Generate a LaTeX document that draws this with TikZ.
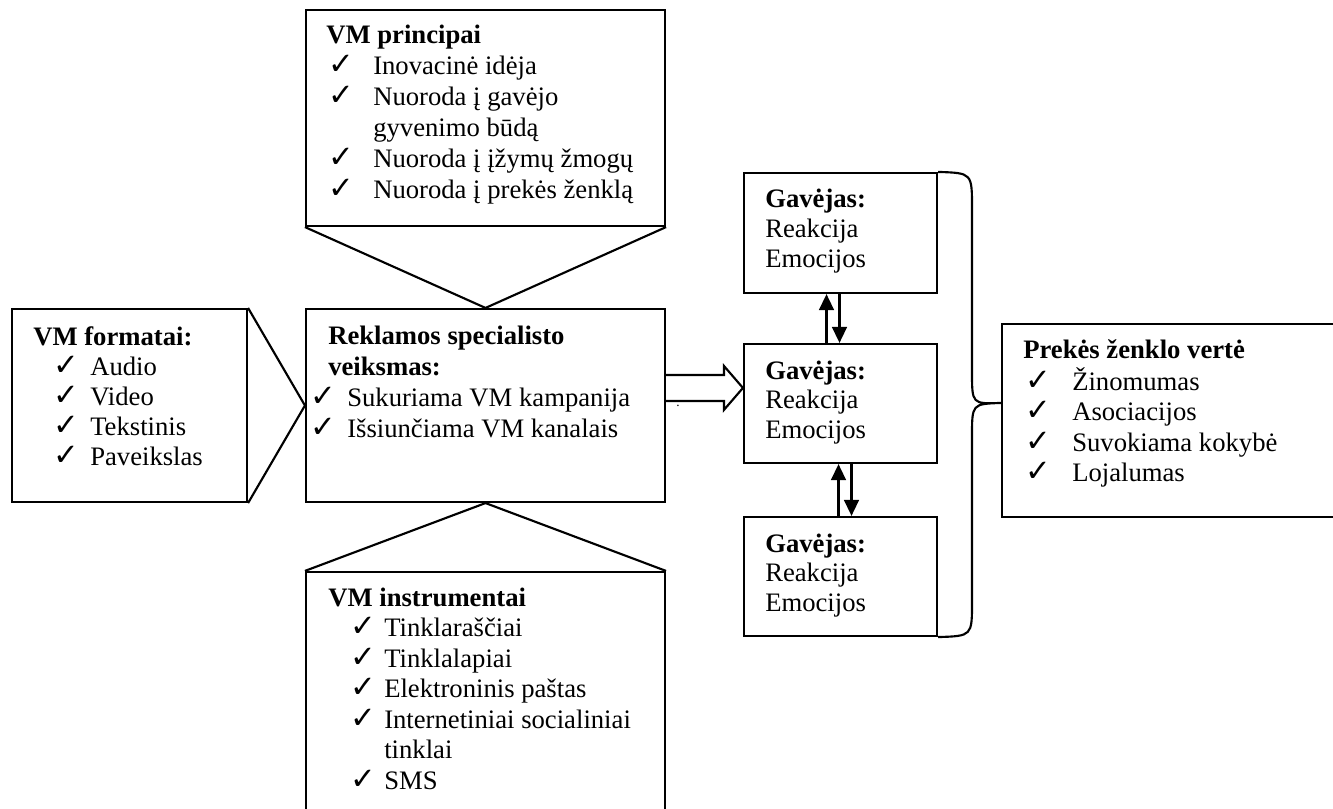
\documentclass[tikz,border=0pt]{standalone}
\usepackage{fontspec}
\setmainfont{Liberation Serif}
\newfontfamily\symfont{DejaVu Sans}
\usetikzlibrary{arrows.meta,calc,fit}
% one drawing unit
\newdimen\px \px=0.75pt
% check mark set in a box of the given width (in drawing units)
\newcommand\ck[1]{\makebox[#1\px][l]{\symfont\fontsize{23pt}{23pt}\selectfont ✓}}

\begin{document}
\begin{tikzpicture}[x=0.75pt, y=-0.75pt,
  box/.style={draw, line width=1.6pt, inner sep=0pt},
  txt/.style={anchor=base west, inner sep=0pt, font=\fontsize{20pt}{23.25pt}\selectfont},
  lnk/.style={line width=1.6pt},
  varr/.style={line width=1.8pt, -{Triangle[width=11pt,length=12pt]}}]
\useasboundingbox (0,0) rectangle (1333,809);
\clip (0,0) rectangle (1333,809);

% boxes
\node[box, fit={(12,309) (247,502)}] (fmt) {};
\node[box, fit={(306,10) (665,226)}] (prin) {};
\node[box, fit={(306,309) (665,502)}] (main) {};
\node[box, fit={(306,572) (665,840)}] (instr) {};
\node[box, fit={(744,173) (937,293)}] (g1) {};
\node[box, fit={(744,344) (937,463)}] (g2) {};
\node[box, fit={(744,517) (937,636)}] (g3) {};
\node[box, fit={(1002,324) (1360,517)}] (val) {};

% callout wedges pointing at the central box
\draw[lnk] (fmt.north east) -- (main.west) -- (fmt.south east);
\draw[lnk] (prin.south west) -- (main.north) -- (prin.south east);
\draw[lnk] (instr.north west) -- (main.south) -- (instr.north east);

% hollow block arrow to the middle receiver
\coordinate (hs) at ($(main.north east)+(0,80)$);
\coordinate (ht) at ($(g2.north west)+(0,45)$);
\draw[lnk, line join=miter] ($(hs)+(0,-13)$) -- ($(ht)+(-19,-13)$) -- ($(ht)+(-19,-22)$)
  -- (ht) -- ($(ht)+(-19,22)$) -- ($(ht)+(-19,13)$) -- ($(hs)+(0,13)$);
\node[inner sep=0pt, font=\fontsize{10pt}{10pt}\selectfont] (dot) at (678,406) {.};

% two-way arrows between receivers
\draw[varr] ($(g2.north)+(-14,0)$) -- ($(g1.south)+(-14,0)$);
\draw[varr] ($(g1.south)+(-1,0)$) -- ($(g2.north)+(-1,0)$);
\draw[varr] ($(g3.north)+(-2,0)$) -- ($(g2.south)+(-2,0)$);
\draw[varr] ($(g2.south)+(11,0)$) -- ($(g3.north)+(11,0)$);

% brace gathering the receivers
\coordinate (tip) at ($(val.north west)+(0,80)$);
\draw[lnk] (g1.north east) .. controls (972,173) .. (972,208) -- (972,372)
  .. controls (972,404) .. (tip) .. controls (972,404) .. (972,436) -- (972,602)
  .. controls (972,636) .. (g3.south east);

% texts
\node[txt] (fmt-t) at (33,345) {\def\arraystretch{0.968}%
  \begin{tabular}[t]{@{}l@{}l@{}}
  \multicolumn{2}{@{}l@{}}{\bfseries VM formatai:}\\
  \hspace{20\px}\ck{37} & Audio\\
  \hspace{20\px}\ck{37} & Video\\
  \hspace{20\px}\ck{37} & Tekstinis\\
  \hspace{20\px}\ck{37} & Paveikslas
  \end{tabular}};

\node[txt] (prin-t) at (326,44) {%
  \begin{tabular}[t]{@{}l@{}l@{}}
  \multicolumn{2}{@{}l@{}}{\bfseries VM principai}\\
  \hspace{2\px}\ck{45} & Inovacinė idėja\\
  \hspace{2\px}\ck{45} & Nuoroda į gavėjo\\
   & gyvenimo būdą\\
  \hspace{2\px}\ck{45} & Nuoroda į įžymų žmogų\\
  \hspace{2\px}\ck{45} & Nuoroda į prekės ženklą
  \end{tabular}};

\node[txt] (main-t) at (310,344) {%
  \begin{tabular}[t]{@{}l@{}l@{}}
  \multicolumn{2}{@{\hspace{18\px}}l@{}}{\bfseries Reklamos specialisto}\\
  \multicolumn{2}{@{\hspace{18\px}}l@{}}{\bfseries veiksmas:}\\
  \ck{37} & Sukuriama VM kampanija\\
  \ck{37} & Išsiunčiama VM kanalais
  \end{tabular}};

\node[txt] (instr-t) at (328,606) {\def\arraystretch{0.984}%
  \begin{tabular}[t]{@{}l@{}l@{}}
  \multicolumn{2}{@{}l@{}}{\bfseries VM instrumentai}\\
  \hspace{22\px}\ck{34} & Tinklaraščiai\\
  \hspace{22\px}\ck{34} & Tinklalapiai\\
  \hspace{22\px}\ck{34} & Elektroninis paštas\\
  \hspace{22\px}\ck{34} & Internetiniai socialiniai\\
   & tinklai\\
  \hspace{22\px}\ck{34} & SMS
  \end{tabular}};

\node[txt] (g1-t) at (765,208) {\def\arraystretch{0.958}%
  \begin{tabular}[t]{@{}l@{}}\bfseries Gavėjas:\\ Reakcija\\ Emocijos\end{tabular}};
\node[txt] (g2-t) at (765,379) {\def\arraystretch{0.958}%
  \begin{tabular}[t]{@{}l@{}}\bfseries Gavėjas:\\ Reakcija\\ Emocijos\end{tabular}};
\node[txt] (g3-t) at (765,552) {\def\arraystretch{0.958}%
  \begin{tabular}[t]{@{}l@{}}\bfseries Gavėjas:\\ Reakcija\\ Emocijos\end{tabular}};

\node[txt] (val-t) at (1023,358) {\def\arraystretch{0.984}%
  \begin{tabular}[t]{@{}l@{}l@{}}
  \multicolumn{2}{@{}l@{}}{\bfseries Prekės ženklo vertė}\\
  \hspace{2\px}\ck{47} & Žinomumas\\
  \hspace{2\px}\ck{47} & Asociacijos\\
  \hspace{2\px}\ck{47} & Suvokiama kokybė\\
  \hspace{2\px}\ck{47} & Lojalumas
  \end{tabular}};
\end{tikzpicture}
\end{document}
